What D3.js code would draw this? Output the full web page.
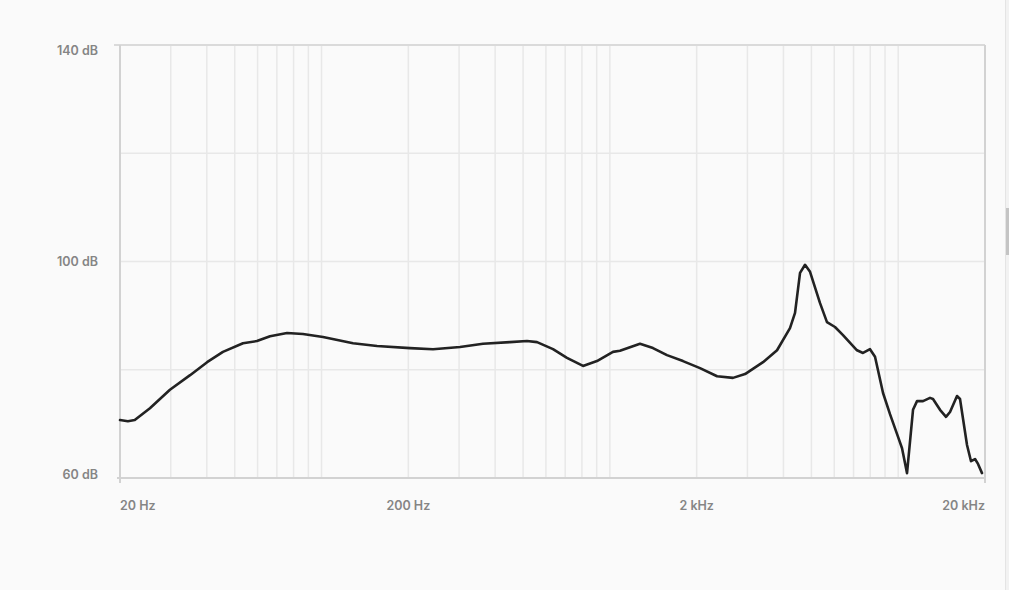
<!DOCTYPE html>
<html>
<head>
<meta charset="utf-8">
<script src="https://cdn.jsdelivr.net/npm/d3@7"></script>
<style>
  html, body { margin: 0; padding: 0; background: #fafafa; }
  svg { display: block; }
  .lbl { font-family: "Inter", "Noto Sans", sans-serif; font-size: 12.5px; font-weight: 600; fill: #858585; }
</style>
</head>
<body>
<svg id="chart" width="1009" height="590"></svg>
<script>
// Frequency response (Hz, dB)
const freqHz = [20, 21.3, 22.5, 25.4, 29.8, 35.0, 40.1, 45.5, 53.4, 59.7, 66.3, 75.9, 86.2, 101.2, 128.6, 155.8,
  202.7, 243.6, 302.2, 363, 450, 516, 559, 635, 710, 807, 902, 1025, 1084, 1272, 1411, 1578, 1793, 2054, 2354,
  2673, 2943, 3398, 3800, 4214, 4387, 4566, 4752, 4946, 5357, 5662, 6036, 6435, 7196, 7550, 7984, 8310, 8860,
  9366, 9988, 10310, 10730, 11256, 11622, 12190, 12892, 13204, 13964, 14648, 15126, 15994, 16382, 17324, 17886,
  18468, 18916, 19526];
const levelDb = [70.7, 70.5, 70.7, 72.9, 76.3, 79.0, 81.4, 83.3, 84.9, 85.3, 86.2, 86.8, 86.6, 86.05, 84.9, 84.4,
  84.0, 83.8, 84.2, 84.8, 85.1, 85.3, 85.1, 83.8, 82.2, 80.7, 81.6, 83.3, 83.5, 84.8, 84.0, 82.7, 81.6, 80.3, 78.8,
  78.5, 79.2, 81.4, 83.6, 87.7, 90.5, 97.9, 99.4, 98.1, 92.3, 88.8, 87.9, 86.4, 83.6, 83.1, 83.8, 82.4, 75.7,
  71.8, 67.6, 65.5, 60.9, 72.6, 74.2, 74.2, 74.8, 74.6, 72.6, 71.3, 72.2, 75.15, 74.6, 66.1, 63.1,
  63.5, 62.6, 60.9];

const yTicks = [60, 80, 100, 120, 140];
const yTickLabels = ["60 dB", "", "100 dB", "", "140 dB"];
const xGrid = [20, 30, 40, 50, 60, 70, 80, 90, 100, 200, 300, 400, 500, 600, 700, 800, 900,
  1000, 2000, 3000, 4000, 5000, 6000, 7000, 8000, 9000, 10000, 20000];
const xTickValues = [20, 200, 2000, 20000];
const xTickLabels = ["20 Hz", "200 Hz", "2 kHz", "20 kHz"];

const svg = d3.select("#chart");
const L = 120, R = 985, T = 45, B = 478;

const x = d3.scaleLog().domain([20, 20000]).range([L, R]);
const y = d3.scaleLinear().domain([60, 140]).range([B, T]);

// scrollbar-like strip at right edge
svg.append("rect").attr("x", 1005).attr("y", 0).attr("width", 4).attr("height", 590).attr("fill", "#f2f2f2");
svg.append("line").attr("x1", 1005.5).attr("x2", 1005.5).attr("y1", 0).attr("y2", 590).attr("stroke", "#e4e4e4");
svg.append("rect").attr("x", 1006).attr("y", 208).attr("width", 3).attr("height", 47).attr("fill", "#c4c4c4");

// vertical grid
svg.append("g").selectAll("line").data(xGrid.filter(d => d > 20 && d < 20000)).join("line")
  .attr("x1", d => x(d)).attr("x2", d => x(d)).attr("y1", T).attr("y2", B)
  .attr("stroke", "#e8e8e8").attr("stroke-width", 1.5);

// horizontal grid
svg.append("g").selectAll("line").data(yTicks.filter(d => d > 60 && d < 140)).join("line")
  .attr("x1", L).attr("x2", R).attr("y1", d => y(d)).attr("y2", d => y(d))
  .attr("stroke", "#e8e8e8").attr("stroke-width", 1.5);

// frame
const frame = svg.append("g").attr("stroke", "#d2d2d2").attr("stroke-width", 2).attr("fill", "none");
frame.append("line").attr("x1", L - 6).attr("x2", R).attr("y1", y(140)).attr("y2", y(140)).attr("stroke", "#dadada");
frame.append("line").attr("x1", L - 3).attr("x2", R).attr("y1", y(60)).attr("y2", y(60));
frame.append("line").attr("x1", L).attr("x2", L).attr("y1", T).attr("y2", B + 5);
frame.append("line").attr("x1", R).attr("x2", R).attr("y1", T).attr("y2", B + 5);

// y labels
const yOff = {60: 1, 100: 4, 140: 10};
svg.append("g").selectAll("text").data(yTicks.filter((d, i) => yTickLabels[i])).join("text")
  .attr("class", "lbl")
  .attr("x", 98).attr("y", d => y(d) + yOff[d])
  .attr("text-anchor", "end")
  .text(d => yTickLabels[yTicks.indexOf(d)]);

// x labels
svg.append("g").selectAll("text").data(xTickValues).join("text")
  .attr("class", "lbl")
  .attr("x", d => x(d)).attr("y", 510)
  .attr("text-anchor", (d, i) => i === 0 ? "start" : (i === xTickValues.length - 1 ? "end" : "middle"))
  .text((d, i) => xTickLabels[i]);

// curve
const pts = freqHz.map((f, i) => [f, levelDb[i]]);
const line = d3.line().x(d => x(d[0])).y(d => y(d[1])).curve(d3.curveLinear);
svg.append("path").datum(pts).attr("d", line)
  .attr("fill", "none").attr("stroke", "#222").attr("stroke-width", 2.6)
  .attr("stroke-linejoin", "round").attr("stroke-linecap", "round");
</script>
</body>
</html>
